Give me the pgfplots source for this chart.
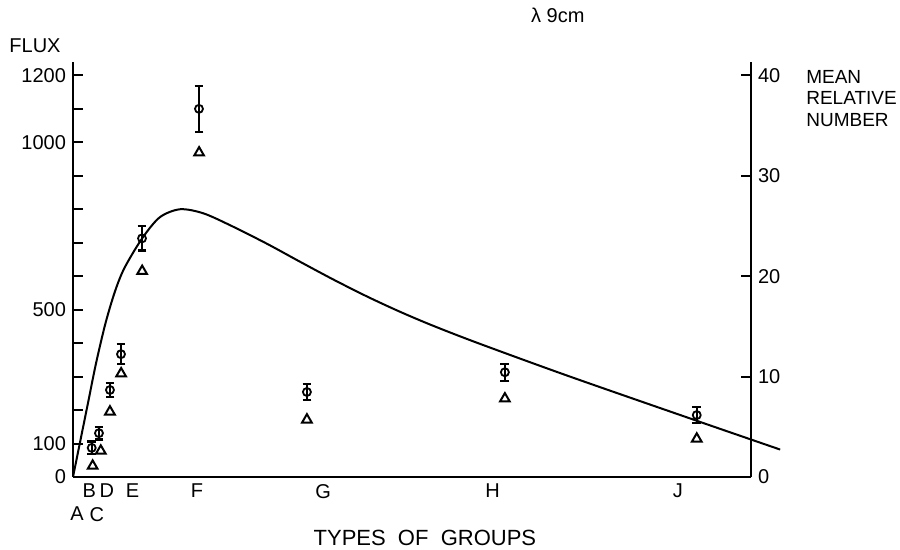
\documentclass[border=0pt]{standalone}
\usepackage{fontspec}
\setmainfont{Liberation Sans}
\usepackage{pgfplots}
\pgfplotsset{compat=1.18}

\begin{document}
\begin{tikzpicture}
\pgfplotsset{
  every axis/.append style={
    scale only axis, width=339pt, height=207.5pt,
    xmin=0, xmax=100,
    axis line style={-, line width=1.2pt},
    tick align=inside,
    major tick length=5pt,
    tick style={line width=1pt, black},
    tick label style={font=\fontsize{10}{12}\selectfont},
    /pgf/number format/assume math mode=true,
    clip=false,
  }
}
% flux axis, curve and measured flux with error bars
\begin{axis}[
    name=main,
    ymin=0, ymax=1240,
    axis x line*=bottom, axis y line*=left,
    ytick={0,100,...,1200},
    yticklabels={0,100,,,,500,,,,,1000,,1200},
    xtick={2.4,5.0,8.8,18.3,36.9,61.9,89.2},
    xticklabels={B,D,E,F,G,H,J},
    x tick style={draw=none},
    extra x ticks={0.6,3.5},
    extra x tick labels={A,C},
    extra x tick style={major tick length=0pt, x tick style={draw=none},
      tick label style={yshift=-11.5pt}},
  ]
  \addplot[smooth, line width=1pt] coordinates {
    (0,0) (1.1,110) (2.2,220) (3.4,340) (4.8,460) (6.2,555) (7.6,625)
    (10.2,713) (12.8,776) (15.8,800) (19.2,788) (23.2,752)
    (28.6,697) (33.5,643) (38.4,590) (43.4,539) (48.2,494)
    (53.1,452) (60.0,398) (73.3,300) (92.0,168) (100,112) (104.3,82)
  };
  \addplot[only marks, mark=o, mark size=2pt,
    mark options={fill=white, line width=0.9pt},
    error bars/.cd, y dir=both, y explicit,
    error bar style={line width=1.1pt},
    error mark options={rotate=90, mark size=2.2pt, line width=1.1pt}]
  coordinates {
    (2.76,87) +- (0,19)
    (3.83,131) +- (0,19)
    (5.45,260) +- (0,22)
    (7.08,367) +- (0,30)
    (10.18,713) +- (0,36)
    (18.58,1100) +- (0,69)
    (34.5,254) +- (0,24)
    (63.7,313) +- (0,25)
    (92.0,185) +- (0,24)
  };
  \node[font=\fontsize{10}{12}\selectfont] at (axis cs:-5.6,1290) {FLUX};
  \node[font=\fontsize{10}{12}\selectfont] at (axis cs:71.5,1379) {λ 9cm};
  \node[font=\fontsize{11}{13}\selectfont] at (axis cs:51.9,-182) {TYPES \ OF \ GROUPS};
  \node[anchor=north west, inner sep=0pt, align=left,
    font=\fontsize{9.5}{10.75}\selectfont] at (axis cs:108.1,1217)
    {MEAN\\RELATIVE\\NUMBER};
\end{axis}
% mean relative number axis
\begin{axis}[
    ymin=0, ymax=41.333,
    axis y line*=right, axis x line=none,
    ytick={0,10,20,30,40},
  ]
  \addplot[only marks, mark=triangle, mark size=2.8pt,
    mark options={line width=1pt}]
  coordinates {
    (2.9,1.1) (4.1,2.6) (5.45,6.5) (7.1,10.3) (10.2,20.5)
    (18.6,32.3) (34.5,5.7) (63.7,7.8) (92.0,3.8)
  };
\end{axis}
\pgfresetboundingbox
\path ([xshift=-36.5pt,yshift=-36.5pt]main.south west)
  rectangle ([xshift=74.5pt,yshift=31pt]main.north east);
\end{tikzpicture}
\end{document}
